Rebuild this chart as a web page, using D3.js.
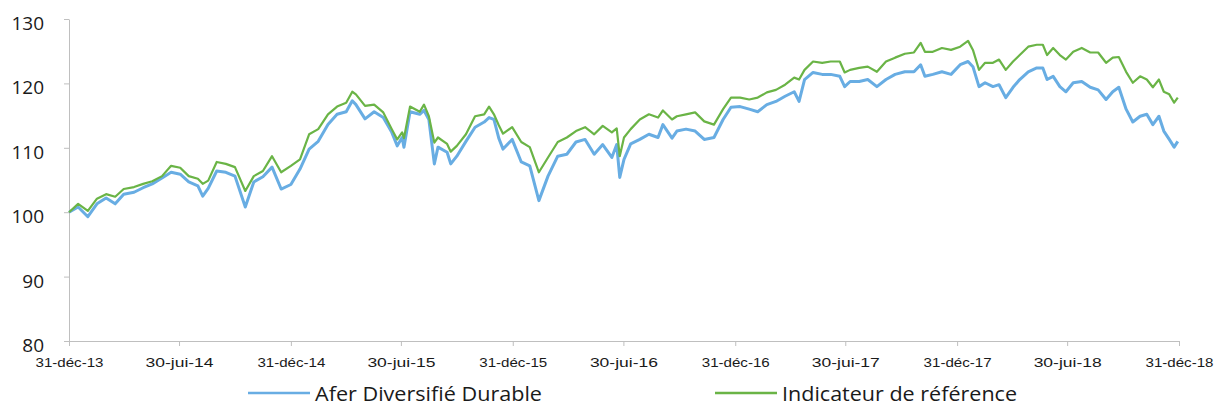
<!DOCTYPE html>
<html>
<head>
<meta charset="utf-8">
<script src="https://cdnjs.cloudflare.com/ajax/libs/d3/7.8.5/d3.min.js"></script>
<style>
    body { margin: 0; background: #fff; }
    svg { display: block; }
</style>
</head>
<body>
<div id="chart"></div>
<script>
//Dates of the sampled points
const dates = [
    "2013-12-31","2014-01-15","2014-01-31","2014-02-15","2014-03-02","2014-03-17","2014-03-31","2014-04-17",
    "2014-05-02","2014-05-17","2014-06-02","2014-06-17","2014-07-02","2014-07-16","2014-07-31","2014-08-08",
    "2014-08-17","2014-08-31","2014-09-15","2014-09-30","2014-10-17","2014-10-31","2014-11-15","2014-11-30",
    "2014-12-15","2014-12-31","2015-01-15","2015-01-30","2015-02-14","2015-03-02","2015-03-17","2015-04-01",
    "2015-04-11","2015-04-17","2015-05-02","2015-05-17","2015-06-01","2015-06-15","2015-06-24","2015-07-02",
    "2015-07-05","2015-07-15","2015-07-31","2015-08-07","2015-08-15","2015-08-24","2015-08-30","2015-09-14",
    "2015-09-20","2015-09-30","2015-10-15","2015-10-30","2015-11-14","2015-11-22","2015-11-30","2015-12-08",
    "2015-12-15","2015-12-30","2016-01-14","2016-01-28","2016-02-12","2016-02-27","2016-03-14","2016-03-29",
    "2016-04-13","2016-04-28","2016-05-13","2016-05-27","2016-06-11","2016-06-19","2016-06-24","2016-07-01",
    "2016-07-12","2016-07-27","2016-08-11","2016-08-26","2016-09-03","2016-09-18","2016-09-26","2016-10-11",
    "2016-10-26","2016-11-10","2016-11-26","2016-12-11","2016-12-24","2017-01-08","2017-01-23","2017-02-06",
    "2017-02-21","2017-03-08","2017-03-23","2017-04-07","2017-04-15","2017-04-24","2017-05-08","2017-05-23",
    "2017-06-06","2017-06-21","2017-06-29","2017-07-08","2017-07-23","2017-08-06","2017-08-21","2017-09-05",
    "2017-09-20","2017-10-06","2017-10-21","2017-11-01","2017-11-08","2017-11-21","2017-12-06","2017-12-21",
    "2018-01-05","2018-01-18","2018-01-26","2018-02-05","2018-02-15","2018-02-28","2018-03-10","2018-03-21",
    "2018-04-02","2018-04-13","2018-04-27","2018-05-11","2018-05-21","2018-05-28","2018-06-07","2018-06-18",
    "2018-06-28","2018-07-10","2018-07-24","2018-08-07","2018-08-20","2018-09-02","2018-09-13","2018-09-23",
    "2018-10-05","2018-10-16","2018-10-28","2018-11-08","2018-11-18","2018-11-28","2018-12-06","2018-12-15",
    "2018-12-23","2018-12-29"
];

//Afer Diversifié Durable (base 100)
const fundValues = [
    100.0,100.8, 99.3,101.3,102.2,101.3,102.8,103.1,
    103.8,104.4,105.3,106.2,105.9,104.7,104.1,102.5,
    103.7,106.4,106.2,105.6,100.8,104.7,105.5,107.0,
    103.6,104.3,106.7,109.8,111.0,113.6,115.2,115.6,
    117.3,116.7,114.5,115.6,114.7,112.4,110.3,111.6,
    110.1,115.6,115.2,115.8,114.4,107.5,110.1,109.3,
    107.5,108.7,111.0,113.2,114.0,114.7,114.4,111.5,
    109.8,111.3,107.8,107.2,101.8,105.6,108.7,109.0,
    110.9,111.3,109.0,110.5,108.5,110.5,105.4,108.2,
    110.6,111.3,112.1,111.6,113.6,111.5,112.6,112.9,
    112.6,111.3,111.6,114.4,116.3,116.4,116.0,115.6,
    116.7,117.2,118.0,118.7,117.2,120.6,121.7,121.4,
    121.4,121.1,119.5,120.3,120.3,120.6,119.5,120.6,
    121.4,121.8,121.8,122.9,121.1,121.4,121.8,121.4,
    122.9,123.4,122.6,119.5,120.1,119.5,119.8,117.8,
    119.4,120.6,121.8,122.4,122.4,120.6,121.1,119.5,
    118.7,120.1,120.3,119.4,119.0,117.5,118.7,119.4,
    116.0,114.0,114.9,115.2,113.6,114.9,112.6,111.3,
    110.1,111.0
];

//Indicateur de référence (base 100)
const refValues = [
    100.0,101.3,100.2,102.1,102.8,102.4,103.6,103.9,
    104.4,104.8,105.6,107.2,106.9,105.6,105.2,104.4,
    104.9,107.8,107.5,107.0,103.3,105.6,106.4,108.7,
    106.2,107.2,108.2,112.1,112.9,115.2,116.4,117.0,
    118.7,118.3,116.5,116.7,115.5,112.9,111.3,112.4,
    111.5,116.4,115.6,116.7,114.9,110.8,111.6,110.6,
    109.4,110.3,112.1,114.9,115.2,116.4,115.2,113.5,
    112.2,113.2,110.9,110.1,106.2,108.5,110.9,111.6,
    112.6,113.2,112.1,113.4,112.4,113.0,108.7,111.6,
    112.9,114.4,115.2,114.7,115.8,114.4,114.9,115.2,
    115.5,114.1,113.6,116.0,117.8,117.8,117.5,117.8,
    118.6,119.0,119.8,120.9,120.6,122.1,123.4,123.2,
    123.4,123.4,121.7,122.1,122.4,122.6,121.8,123.4,
    124.0,124.6,124.8,126.3,124.9,124.9,125.5,125.2,
    125.7,126.6,125.2,122.1,123.2,123.2,123.7,122.1,
    123.4,124.4,125.7,126.0,126.0,124.4,125.5,124.4,
    123.7,124.9,125.5,124.8,124.8,123.2,124.0,124.1,
    121.8,120.1,121.1,120.6,119.4,120.6,118.7,118.3,
    117.0,117.8
];

//X axis ticks and labels
const tickDates = ["2013-12-31","2014-06-30","2014-12-31","2015-06-30","2015-12-31","2016-06-30",
                   "2016-12-31","2017-06-30","2017-12-31","2018-06-30","2018-12-31"];
const tickLabels = ["31-déc-13","30-jui-14","31-déc-14","30-jui-15","31-déc-15","30-jui-16",
                    "31-déc-16","30-jui-17","31-déc-17","30-jui-18","31-déc-18"];

//Y axis ticks
const yTicks = [80, 90, 100, 110, 120, 130];

//Series names
const seriesNames = ["Afer Diversifié Durable", "Indicateur de référence"];

const width = 1221, height = 407;
const margin = {top: 19, right: 42, bottom: 66, left: 69};
const axisColor = "#bfbfbf";
const blue = "#68ade3", green = "#6ab446";

const parse = d3.timeParse("%Y-%m-%d");

const svg = d3.select("#chart").append("svg")
    .attr("width", width)
    .attr("height", height);

//Scales
const x = d3.scaleTime()
    .domain([parse("2013-12-31"), parse("2018-12-31")])
    .range([margin.left, width - margin.right]);

const y = d3.scaleLinear()
    .domain([80, 130])
    .range([height - margin.bottom, margin.top]);

//Y axis
const yAxis = svg.append("g")
    .attr("transform", "translate(" + margin.left + ",0)")
    .call(d3.axisLeft(y).tickValues(yTicks).tickSize(5).tickSizeOuter(0).tickPadding(20));

yAxis.select(".domain").attr("stroke", axisColor);
yAxis.selectAll(".tick line").attr("stroke", axisColor);
yAxis.selectAll("text")
    .attr("font-family", "'Open Sans', sans-serif")
    .attr("font-size", 19)
    .attr("fill", "#1a1a1a")
    .attr("dy", "0.55em");

//X axis
const xAxis = svg.append("g")
    .attr("transform", "translate(0," + y(80) + ")")
    .call(d3.axisBottom(x)
        .tickValues(tickDates.map(parse))
        .tickFormat((d, i) => tickLabels[i])
        .tickSize(5).tickSizeOuter(0).tickPadding(12));

xAxis.select(".domain").attr("stroke", axisColor);
xAxis.selectAll(".tick line").attr("stroke", axisColor);
xAxis.selectAll("text")
    .attr("font-family", "'Liberation Sans', Arial, sans-serif")
    .attr("font-size", 12.5)
    .attr("fill", "#1a1a1a")
    .attr("textLength", 68)
    .attr("lengthAdjust", "spacingAndGlyphs");

//Building the points of each series
const fundPoints = dates.map((d, i) => ({date: parse(d), value: fundValues[i]}));
const refPoints = dates.map((d, i) => ({date: parse(d), value: refValues[i]}));

const line = d3.line()
    .x(d => x(d.date))
    .y(d => y(d.value));

svg.append("path")
    .datum(fundPoints)
    .attr("fill", "none")
    .attr("stroke", blue)
    .attr("stroke-width", 3)
    .attr("stroke-linejoin", "round")
    .attr("d", line);

svg.append("path")
    .datum(refPoints)
    .attr("fill", "none")
    .attr("stroke", green)
    .attr("stroke-width", 2.2)
    .attr("stroke-linejoin", "round")
    .attr("d", line);

//Legend
const legend = [
    {name: seriesNames[0], color: blue, x: 248, w: 227},
    {name: seriesNames[1], color: green, x: 715, w: 235}
];

const lg = svg.append("g").selectAll("g")
    .data(legend)
    .enter().append("g")
    .attr("transform", d => "translate(" + d.x + ",393)");

lg.append("line")
    .attr("x1", 0).attr("x2", 62)
    .attr("stroke", d => d.color)
    .attr("stroke-width", 2.5);

lg.append("text")
    .attr("x", 67)
    .attr("y", 8)
    .attr("font-family", "'Open Sans', sans-serif")
    .attr("font-size", 20)
    .attr("fill", "#1a1a1a")
    .attr("textLength", d => d.w)
    .attr("lengthAdjust", "spacingAndGlyphs")
    .text(d => d.name);
</script>
</body>
</html>
